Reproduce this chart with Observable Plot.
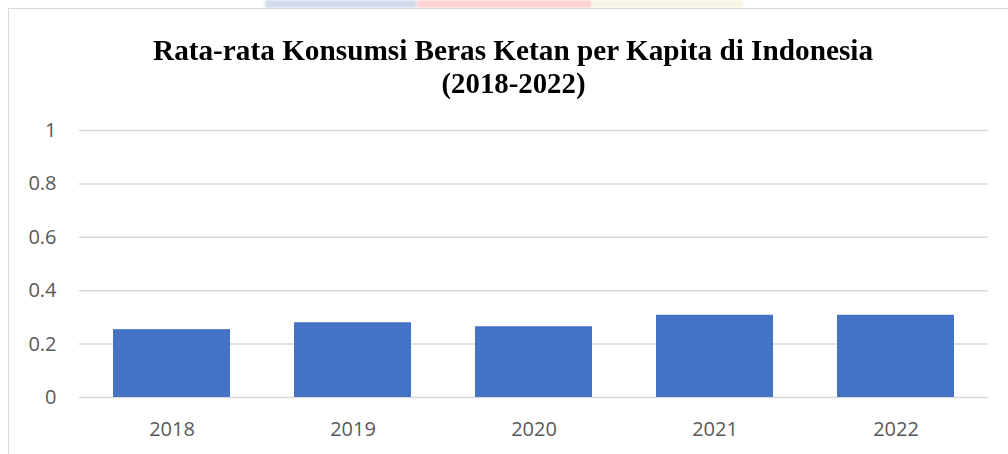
<!DOCTYPE html>
<html>
<head>
<meta charset="utf-8">
<script src="https://cdn.jsdelivr.net/npm/d3@7"></script>
<script src="https://cdn.jsdelivr.net/npm/@observablehq/plot@0.6"></script>
<style>
  html, body { margin: 0; padding: 0; background: #fff; overflow: hidden; }
  #page { position: relative; width: 1008px; height: 454px; overflow: hidden; }
  .wm { position: absolute; top: 0; height: 8px; filter: blur(1.5px); }
  #frame { position: absolute; left: 8px; top: 8px; width: 1020px; height: 480px;
           border: 1.5px solid #d9d9d9; box-sizing: border-box; }
  .tline { position: absolute; left: 0; width: 1026px; text-align: center;
           font-family: "Liberation Serif", "Times New Roman", serif; font-weight: bold;
           font-size: 29px; color: #000; white-space: nowrap; line-height: 1; }
  .tline span { display: inline-block; transform-origin: center; }
  #chart { position: absolute; left: 0; top: 110px; }
</style>
</head>
<body>
<div id="page">
  <div class="wm" style="left:265px;width:152px;background:#d0d9ea;"></div>
  <div class="wm" style="left:417px;width:175px;background:#ffd2d2;"></div>
  <div class="wm" style="left:592px;width:151px;background:#f8f4e2;"></div>
  <div id="frame"></div>
  <div class="tline" id="t1" style="top:36px;"><span>Rata-rata Konsumsi Beras Ketan per Kapita di Indonesia</span></div>
  <div class="tline" id="t2" style="top:69px;"><span>(2018-2022)</span></div>
  <div id="chart"></div>
</div>
<script>
const years = ["2018", "2019", "2020", "2021", "2022"];
const values = [0.254, 0.280, 0.265, 0.308, 0.308];
const yTicks = [0, 0.2, 0.4, 0.6, 0.8, 1];

const data = years.map((y, i) => ({year: y, value: values[i]}));

// squeeze title horizontally to match reference proportions
const targets = {t1: 720, t2: 144};
for (const id in targets) {
  const s = document.querySelector("#" + id + " span");
  const w = s.getBoundingClientRect().width;
  s.style.transform = `scaleX(${targets[id] / w})`;
}

const chart = Plot.plot({
  width: 1008,
  height: 344,
  marginLeft: 79,
  marginRight: 20,
  marginTop: 20,
  marginBottom: 57,
  style: {fontFamily: "'Open Sans', sans-serif", fontSize: "20px", color: "#595959", background: "transparent"},
  x: {domain: years, paddingInner: 0.355, paddingOuter: 0.1775, label: null},
  y: {domain: [0, 1], label: null},
  marks: [
    Plot.gridY(yTicks, {stroke: "#d9d9d9", strokeOpacity: 1, strokeWidth: 1.5}),
    Plot.barY(data, {x: "year", y: "value", fill: "#4472C4"}),
    Plot.axisY(yTicks, {tickSize: 0, tickPadding: 23, tickFormat: d => String(d), fill: "#595959", fontSize: 20}),
    Plot.axisX({tickSize: 0, tickPadding: 24, fill: "#595959", fontSize: 20})
  ]
});
document.getElementById("chart").appendChild(chart);
</script>
</body>
</html>
